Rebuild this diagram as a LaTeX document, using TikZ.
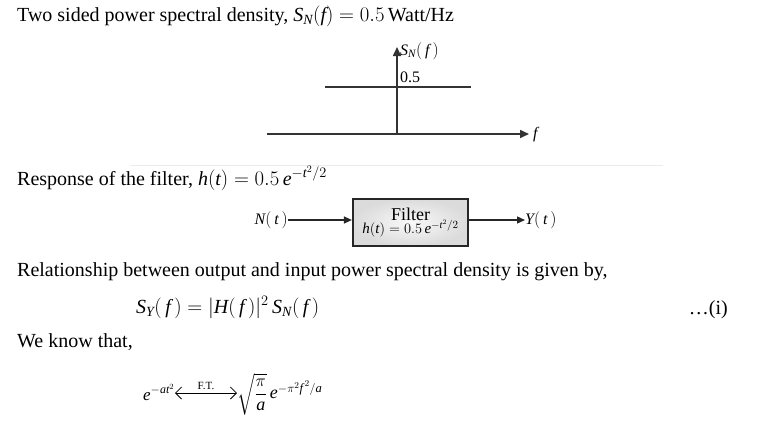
\documentclass[tikz,border=0pt]{standalone}
\usepackage{amsmath}
\usepackage{fontspec}
\setmainfont{Liberation Serif}
\usetikzlibrary{arrows.meta,shadings,calc}
\newcommand{\vi}[1]{\textit{#1}}
\begin{document}
\begin{tikzpicture}[x=1pt,y=-1pt,
  txt/.style={inner sep=0pt,font=\fontsize{20}{24}\selectfont,text=black},
  small/.style={inner sep=0pt,font=\fontsize{16}{19}\selectfont,text=black},
  axis/.style={draw=black!80,line width=1.6pt},
  conn/.style={draw=black!85,line width=1.3pt,-{Triangle[length=8pt,width=7pt]}},
  filterbox/.style={draw=black!85,line width=2.2pt,minimum width=115pt,minimum height=47pt,inner color=gray!5,outer color=gray!28,align=center,inner sep=0pt}]
\useasboundingbox (0,0) rectangle (759,434);
% title
\node[txt,anchor=base west] (title) at (17,21) {Two sided power spectral density, $\vi{S}_{\vi{N}}(\vi{f})=0.5$\,Watt/Hz};
% spectrum plot
\coordinate (o) at (397,134);
\coordinate (xl) at (267,134);
\coordinate (xr) at (529,134);
\coordinate (yt) at (397,47);
\coordinate (ll) at (325,87);
\coordinate (lr) at (471,87);
\draw[axis,-{Triangle[length=9pt,width=8pt]}] (xl) -- (xr);
\draw[axis,-{Triangle[length=9pt,width=8pt]}] (o) -- (yt);
\draw[axis] (ll) -- (lr);
\node[small,anchor=west] (sn) at (400,51) {$\vi{S}_{\vi{N}}(\,\vi{f}\,)$};
\node[small,anchor=base west] (half) at (400,82) {0.5};
\node[small,anchor=west] (flab) at (533,135) {\vi{f}};
% separator
\coordinate (sepl) at (130,165);
\coordinate (sepr) at (663,165);
\draw[gray!15,line width=0.8pt] (sepl) -- (sepr);
% filter text
\node[txt,anchor=base west] (resp) at (17,185) {Response of the filter, $\vi{h}(\vi{t})=0.5\,\vi{e}^{-\vi{t}^2/2}$};
% block diagram
\node[filterbox] (filt) at (410.5,222.5) {{\fontsize{18}{19}\selectfont Filter}\\[-1pt]{\fontsize{15}{17}\selectfont $\vi{h}(\vi{t})=0.5\,\vi{e}^{-\vi{t}^2/2}$}};
\node[small,anchor=east] (nin) at (288,220) {$\vi{N}(\,\vi{t}\,)$};
\node[small,anchor=west] (yout) at (525,220) {$\vi{Y}(\,\vi{t}\,)$};
\draw[conn] (nin.east) -- (nin.east -| filt.west);
\draw[conn] (yout.west -| filt.east) -- (yout.west);
% relationship
\node[txt,anchor=base west] (rel) at (17,276) {Relationship between output and input power spectral density is given by,};
\node[txt,anchor=base west] (eq1) at (136,313) {$\vi{S}_{\vi{Y}}(\,\vi{f}\,)=|\vi{H}(\,\vi{f}\,)|^2\,\vi{S}_{\vi{N}}(\,\vi{f}\,)$};
\node[txt,anchor=base east] (eqno) at (728,314) {\dots(i)};
\node[txt,anchor=base west] (know) at (17,347) {We know that,};
% fourier pair
\node[inner sep=0pt,font=\fontsize{17}{20}\selectfont,anchor=base west] (lhs) at (143,400) {$\vi{e}^{-\vi{a}\vi{t}^2}$};
\node[inner sep=0pt,font=\fontsize{18}{21}\selectfont,anchor=west] (rhs) at (237,394) {$\sqrt{\dfrac{\pi}{\vi{a}}}\,\vi{e}^{-\pi^2\vi{f}^{\,2}/\vi{a}}$};
\coordinate (al) at (175,393);
\coordinate (ar) at (rhs.west |- al);
\draw[line width=0.8pt,{Straight Barb[length=6pt]}-{Straight Barb[length=6pt]}] (al) -- (ar);
\node[inner sep=0pt,font=\fontsize{11}{13}\selectfont,anchor=south] (ft) at ($(al)!0.5!(ar)+(0,-3)$) {F.T.};
\end{tikzpicture}
\end{document}
